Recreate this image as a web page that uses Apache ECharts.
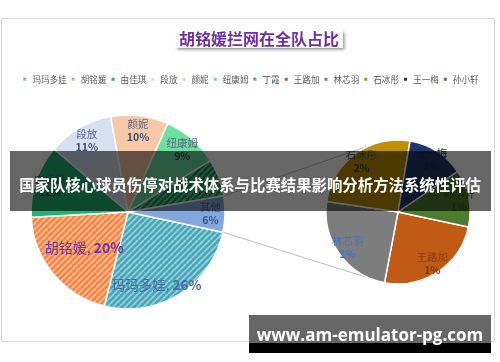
<!DOCTYPE html>
<html><head><meta charset="utf-8">
<script src="https://cdn.jsdelivr.net/npm/echarts@6/dist/echarts.min.js"></script>
<style>html,body{margin:0;padding:0;background:#fff}#c{width:500px;height:362px}</style>
</head><body><div id="c"></div>
<script>
// ---- data ----
const chartTitle = '胡铭媛拦网在全队占比';
const primaryNames = ['玛玛多娃','胡铭媛','由佳琪','段放','颜妮','纽康姆','丁霞','其他'];
const primaryValues = [25.6, 20.2, 12.1, 10.9, 9.6, 9.4, 6.2, 6.0];
const secondaryNames = ['王路加','林芯羽','石冰彤','王一梅','孙小轩'];
const secondaryValues = [1.48, 1.46, 1.52, 0.77, 0.77];
const legendNames = ['玛玛多娃','胡铭媛','由佳琪','段放','颜妮','纽康姆','丁霞','王路加','林芯羽','石冰彤','王一梅','孙小轩'];
const bannerText = '国家队核心球员伤停对战术体系与比赛结果影响分析方法系统性评估';
const watermarkText = 'www.am-emulator-pg.com';

// ---- layout / style ----
const FONT = '"Noto Sans CJK SC", "Noto Sans", sans-serif';
const L = {cx:128, cy:212, r:97};
const R = {cx:398, cy:212, r:72};
const START = -12; // echarts startAngle (deg, ccw from 3 o'clock)

function hatch(base, stripe) {
  const s = 6;
  const c = document.createElement('canvas'); c.width = s; c.height = s;
  const g = c.getContext('2d');
  g.fillStyle = base; g.fillRect(0, 0, s, s);
  g.strokeStyle = stripe; g.lineWidth = 1.7;
  g.beginPath();
  for (const o of [-s, 0, s]) { g.moveTo(o, s); g.lineTo(o + s, 0); }
  g.stroke();
  return {image: c, repeat: 'repeat'};
}
const colors = {
  '玛玛多娃': hatch('#4aa6b6', '#93d3de'),
  '胡铭媛': hatch('#f4884a', '#f9bb90'),
  '由佳琪': '#22b272',
  '段放': '#d6e0f0',
  '颜妮': '#f7c9a9',
  '纽康姆': '#6ddf9f',
  '丁霞': hatch('#1f8f55', '#6fd09c'),
  '其他': '#84a7db',
  '王路加': '#c05a14',
  '林芯羽': '#7d7d7d',
  '石冰彤': '#bd9000',
  '王一梅': '#21396a',
  '孙小轩': '#4d7c30'
};
const primaryTotal = primaryValues.reduce((a, b) => a + b, 0);
const labelOverrides = {
  '胡铭媛': {inline: true, offset: [20, -17], color: '#7030a0', size: 14},
  '玛玛多娃': {inline: true, offset: [-15, 3], color: '#4a6aa8', size: 13.5},
  '丁霞': {nameOnly: true, offset: [3, -22], color: '#c8c8c8', size: 13},
  '其他': {pColor: '#2f5597'},
  '林芯羽': {nColor: '#4472c4', pColor: '#4472c4'},
  '王路加': {nColor: '#8a4010', pColor: '#7a3608'},
  '石冰彤': {nColor: '#5e5e5e', pColor: '#3b3b3b'},
  '王一梅': {nColor: '#1a2d52', pColor: '#1a2d52'},
  '孙小轩': {nColor: '#365a22', pColor: '#365a22'}
};
function makeLabel(name, value) {
  const o = labelOverrides[name] || {};
  const pct = Math.round(value / primaryTotal * 100) + '%';
  if (o.inline) {
    return {show: true, position: 'inside', offset: o.offset,
      formatter: '{n|' + name + ', }{p|' + pct + '}',
      rich: {n: {fontSize: o.size, color: o.color, fontFamily: FONT},
             p: {fontSize: o.size, color: o.color, fontWeight: 'bold', fontFamily: FONT}}};
  }
  if (o.nameOnly) {
    return {show: true, position: 'inside', offset: o.offset,
      formatter: '{n|' + name + '}',
      rich: {n: {fontSize: o.size, color: o.color, fontFamily: FONT}}};
  }
  return {show: true, position: 'inside',
    formatter: '{n|' + name + '}\n{p|' + pct + '}',
    rich: {n: {fontSize: 10.5, lineHeight: 13, color: o.nColor || '#5b6784', fontFamily: FONT},
           p: {fontSize: 10.5, lineHeight: 13, fontWeight: 'bold', color: o.pColor || '#3e4c6e', fontFamily: FONT}}};
}
function pieData(names, values) {
  return names.map((n, i) => ({name: n, value: values[i], itemStyle: {color: colors[n]}}));
}
function labelData(names, values) {
  return names.map((n, i) => ({name: n, value: values[i], label: makeLabel(n, values[i])}));
}
function piePoint(c, clockDeg) {
  const a = clockDeg * Math.PI / 180;
  return [c.cx + c.r * Math.sin(a), c.cy - c.r * Math.cos(a)];
}
// connector lines: edges of the "其他" slice -> secondary pie
const clockStart = 90 - START;
const otherIdx = primaryNames.indexOf('其他');
let cum = 0; for (let i = 0; i < otherIdx; i++) cum += primaryValues[i];
const oA0 = clockStart + cum / primaryTotal * 360;
const oA1 = oA0 + primaryValues[otherIdx] / primaryTotal * 360;
const pUp = piePoint(L, oA0), pDn = piePoint(L, oA1);
const qUp = piePoint(R, -17), qDn = piePoint(R, 192);

const chart = echarts.init(document.getElementById('c'), null, {renderer: 'canvas'});
const visiblePie = (c, data) => ({
  type: 'pie', center: [c.cx, c.cy], radius: [0, c.r], startAngle: START, clockwise: true,
  data: data, label: {show: false}, labelLine: {show: false}, silent: true,
  itemStyle: {borderColor: '#fff', borderWidth: 1.5}, emphasis: {disabled: true}, z: 2
});
const labelPie = (c, data) => ({
  type: 'pie', center: [c.cx, c.cy], radius: [c.r * 0.64, c.r], startAngle: START, clockwise: true,
  data: data, labelLine: {show: false}, silent: true,
  itemStyle: {color: 'rgba(0,0,0,0)', borderWidth: 0}, emphasis: {disabled: true}, z: 3
});
chart.setOption({
  animation: false,
  backgroundColor: '#fff',
  textStyle: {fontFamily: FONT},
  title: {
    text: chartTitle, left: 175, top: 30, padding: [1, 4],
    backgroundColor: '#fff', shadowColor: 'rgba(0,0,0,0.45)', shadowBlur: 3, shadowOffsetX: 2, shadowOffsetY: 2,
    textStyle: {fontSize: 16, fontWeight: 'bold', color: '#7030a0', fontFamily: FONT}
  },
  legend: {
    data: legendNames, top: 70, left: 'center', icon: 'rect', itemWidth: 5, itemHeight: 5, itemGap: 3,
    selectedMode: false, textStyle: {fontSize: 8.6, color: '#595959', fontFamily: FONT}
  },
  series: [
    visiblePie(L, pieData(primaryNames, primaryValues)),
    visiblePie(R, pieData(secondaryNames, secondaryValues)),
    labelPie(L, labelData(primaryNames, primaryValues)),
    labelPie(R, labelData(secondaryNames, secondaryValues))
  ],
  graphic: [
    {type: 'rect', z: -10, silent: true, shape: {x: 1.5, y: 18.5, width: 493, height: 323},
     style: {fill: '#fff', stroke: '#d9d9d9', lineWidth: 1}},
    {type: 'line', z: 1, silent: true, shape: {x1: pUp[0], y1: pUp[1], x2: qUp[0], y2: qUp[1]},
     style: {stroke: '#bfbfbf', lineWidth: 1}},
    {type: 'line', z: 1, silent: true, shape: {x1: pDn[0], y1: pDn[1], x2: qDn[0], y2: qDn[1]},
     style: {stroke: '#bfbfbf', lineWidth: 1}},
    {type: 'rect', z: 100, silent: true, shape: {x: 10, y: 151, width: 481, height: 60},
     style: {fill: 'rgba(0,0,0,0.6)'}},
    {type: 'text', z: 101, silent: true,
     style: {text: bannerText, x: 250, y: 185, align: 'center', verticalAlign: 'middle',
             textAlign: 'center', textVerticalAlign: 'middle', fill: '#fff',
             font: 'bold 15.4px "Noto Sans CJK SC"'}},
    {type: 'rect', z: 100, silent: true, shape: {x: 249, y: 315, width: 242, height: 28}, style: {fill: '#666'}},
    {type: 'rect', z: 100, silent: true, shape: {x: 249, y: 343, width: 242, height: 10}, style: {fill: '#000'}},
    {type: 'text', z: 101, silent: true,
     style: {text: watermarkText, x: 370, y: 336, align: 'center', verticalAlign: 'middle',
             textAlign: 'center', textVerticalAlign: 'middle', fill: '#fff',
             font: 'bold 17px "Open Sans"'}}
  ]
});
</script></body></html>
